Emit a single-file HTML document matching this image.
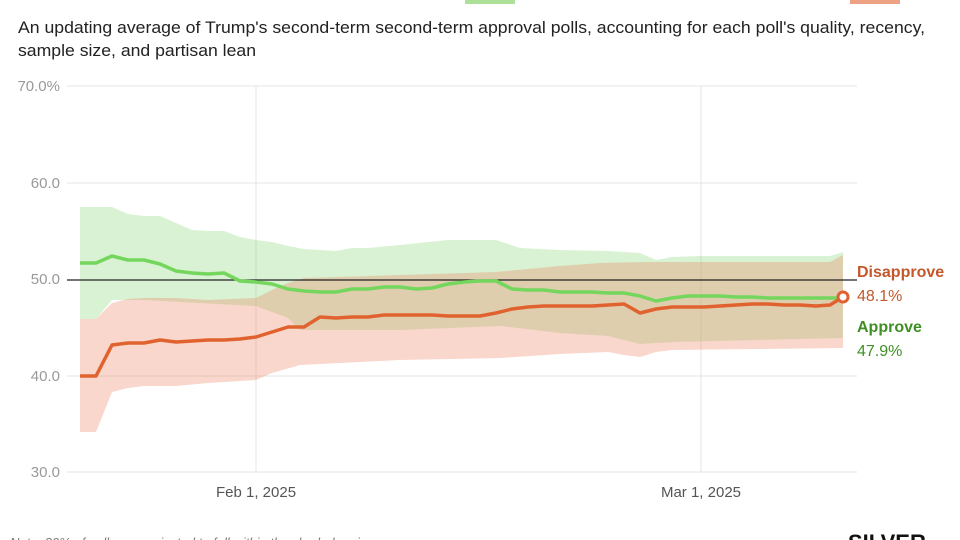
<!DOCTYPE html>
<html><head><meta charset="utf-8"><style>
html,body{margin:0;padding:0;background:#fff;width:960px;height:540px;overflow:hidden}
svg{display:block}
text{font-family:"Liberation Sans Narrow","Liberation Sans",sans-serif}
</style></head><body>
<svg width="960" height="540" viewBox="0 0 960 540">
<rect x="465" y="0" width="50" height="4" fill="#8ad46d" opacity="0.7"/>
<rect x="850" y="0" width="50" height="4" fill="#e57a4f" opacity="0.7"/>
<text x="18" y="33" font-size="17" fill="#222" textLength="907" lengthAdjust="spacingAndGlyphs" style="font-family:'Liberation Sans',sans-serif">An updating average of Trump's second-term second-term approval polls, accounting for each poll's quality, recency,</text>
<text x="18" y="56" font-size="17" fill="#222" textLength="238" lengthAdjust="spacingAndGlyphs" style="font-family:'Liberation Sans',sans-serif">sample size, and partisan lean</text>
<g stroke="#e4e4e4" stroke-width="1">
<line x1="67" y1="86" x2="857" y2="86"/>
<line x1="67" y1="183" x2="857" y2="183"/>
<line x1="67" y1="376" x2="857" y2="376"/>
<line x1="67" y1="472" x2="857" y2="472"/>
<line x1="256" y1="86" x2="256" y2="472"/>
<line x1="701" y1="86" x2="701" y2="472"/>
</g>
<g font-size="15" fill="#999" text-anchor="end">
<text x="60" y="91">70.0%</text>
<text x="60" y="188">60.0</text>
<text x="60" y="284">50.0</text>
<text x="60" y="381">40.0</text>
<text x="60" y="477">30.0</text>
</g>
<g font-size="15" fill="#555" text-anchor="middle">
<text x="256" y="497">Feb 1, 2025</text>
<text x="701" y="497">Mar 1, 2025</text>
</g>
<polygon fill="#8ad876" fill-opacity="0.32" points="80,207 112,207 128,214 144,216 160,216 176,223 192,230 208,231 224,231 240,237 256,240 272,242 288,246 304,249 320,250 336,251 352,248 368,248 400,245 448,240 496,240 520,248 560,250 608,251 640,253 656,260 672,257 700,256 830,256 843,252 843,338 672,342 640,344 608,336 560,333 500,326 400,330 300,330 288,318 256,306 144,300 112,300 96,319 80,319"/>
<polygon fill="#eb8260" fill-opacity="0.32" points="80,319 96,319 112,303 128,299 144,298 176,298 208,300 256,298 272,290 288,283 304,278 400,275 496,272 560,266 600,263 650,262 830,262 843,255 843,348 672,350 656,352 640,357 624,355 608,352 560,354 500,358 400,360 300,365 272,373 256,380 208,383 176,386 144,386 128,388 112,392 96,432 80,432"/>
<line x1="67" y1="280" x2="857" y2="280" stroke="#222" stroke-width="1.2"/>
<polyline fill="none" stroke="#74d65c" stroke-width="3.5" stroke-linejoin="round" points="80,263 96,263 112,256 128,260 144,260 160,264 176,271 192,273 208,274 224,273 240,281 256,282 272,284 288,289 304,291 320,292 336,292 352,289 368,289 384,287 400,287 416,289 432,288 448,284 464,282 480,281 496,281 512,289 528,290 544,290 560,292 576,292 592,292 608,293 624,293 640,296 656,301 672,298 688,296 704,296 720,296 736,297 752,297 768,298 784,298 800,298 816,298 843,298"/>
<polyline fill="none" stroke="#e0632f" stroke-width="3.5" stroke-linejoin="round" points="80,376 96,376 112,345 128,343 144,343 160,340 176,342 192,341 208,340 224,340 240,339 256,337 272,332 288,327 304,327 320,317 336,318 352,317 368,317 384,315 400,315 416,315 432,315 448,316 464,316 480,316 496,313 512,309 528,307 544,306 560,306 576,306 592,306 608,305 624,304 640,313 656,309 672,307 688,307 704,307 720,306 736,305 752,304 768,304 784,305 800,305 816,306 830,305 843,297"/>
<circle cx="843" cy="297" r="5" fill="#fff" stroke="#e0632f" stroke-width="3"/>
<text x="857" y="277" font-size="16" font-weight="bold" fill="#c4582b">Disapprove</text>
<text x="857" y="301" font-size="16" fill="#c4582b">48.1%</text>
<text x="857" y="332" font-size="16" font-weight="bold" fill="#3f8f24">Approve</text>
<text x="857" y="356" font-size="16" fill="#3f8f24">47.9%</text>
<text x="10" y="547" font-size="13" font-style="italic" fill="#777">Note: 80% of polls are projected to fall within the shaded regions</text>
<text x="848" y="550" font-size="22" font-weight="bold" fill="#111">SILVER</text>
</svg>
</body></html>
